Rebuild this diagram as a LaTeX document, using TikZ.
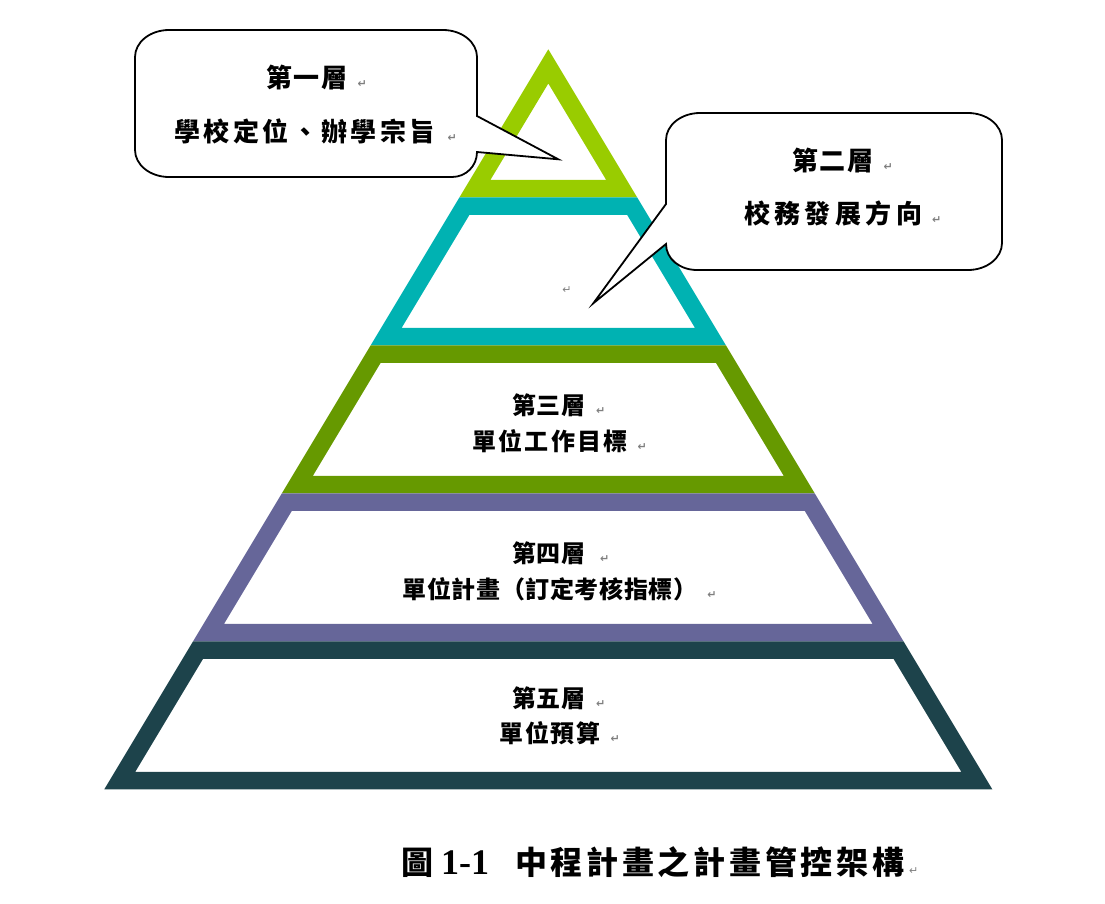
\documentclass[tikz,border=0pt]{standalone}
\usepackage{fontspec}
\setmainfont{Liberation Serif}
\newfontfamily\cjk{Noto Sans CJK TC}
\newfontfamily\sym{DejaVu Sans}
\definecolor{Lone}{HTML}{99CC00}
\definecolor{Ltwo}{HTML}{00B2B2}
\definecolor{Lthree}{HTML}{669900}
\definecolor{Lfour}{HTML}{666699}
\definecolor{Lfive}{HTML}{1D434B}
\definecolor{retgray}{HTML}{7F7F7F}
\makeatletter
\newcommand\spreadtext[2]{\def\spr@gap{#1}\@tfor\spr@c:=#2\do{\spr@c\kern\spr@gap}\unkern}
\makeatother
\newcommand\retm[1][10pt]{\rlap{\kern#1\raisebox{0pt}{\sym\fontsize{11}{11}\selectfont\color{retgray}↵}}}
\begin{document}
\begin{tikzpicture}[x=1pt,y=-1pt,
  lbl/.style={inner sep=0pt, font=\cjk\bfseries\fontsize{24}{24}\selectfont},
  calltext/.style={inner sep=0pt, font=\cjk\bfseries\fontsize{26}{26}\selectfont},
  bubble/.style={draw=black, line width=1.8pt, fill=white, line join=miter},
  band/.style={even odd rule}]
\useasboundingbox (0,0) rectangle (1105,903);

% pyramid layers
\fill[Lone, band] (548.3,49.3) -- (637.1,197.3) -- (459.5,197.3) -- cycle
  (548.3,83.5) -- (606.1,179.8) -- (490.5,179.8) -- cycle;
\fill[Ltwo, band] (459.5,197.3) -- (637.1,197.3) -- (725.9,345.3) -- (370.7,345.3) -- cycle
  (469.5,214.8) -- (627.1,214.8) -- (694.9,327.8) -- (401.7,327.8) -- cycle;
\fill[Lthree, band] (370.7,345.3) -- (725.9,345.3) -- (814.7,493.3) -- (281.9,493.3) -- cycle
  (380.7,362.8) -- (715.9,362.8) -- (783.7,475.8) -- (312.9,475.8) -- cycle;
\fill[Lfour, band] (281.9,493.3) -- (814.7,493.3) -- (903.5,641.3) -- (193.1,641.3) -- cycle
  (291.9,510.8) -- (804.7,510.8) -- (872.5,623.8) -- (224.1,623.8) -- cycle;
\fill[Lfive, band] (193.1,641.3) -- (903.5,641.3) -- (992.3,789.3) -- (104.3,789.3) -- cycle
  (203.1,658.8) -- (893.5,658.8) -- (961.3,771.8) -- (135.3,771.8) -- cycle;

% layer texts
\node[lbl] (l3a) at (549,405) {\spreadtext{1pt}{第三層}\retm};
\node[lbl] (l3b) at (550,441) {\spreadtext{2.2pt}{單位工作目標}\retm};
\node[lbl] (l4a) at (549,553) {\spreadtext{1pt}{第四層}\retm[14pt]};
\node[lbl] (l4b) at (550,589) {\spreadtext{0.6pt}{單位計畫（訂定考核指標）}\retm};
\node[lbl] (l5a) at (549,698) {\spreadtext{1pt}{第五層}\retm[10pt]};
\node[lbl] (l5b) at (550,733) {\spreadtext{1.7pt}{單位預算}\retm};
\node[inner sep=0pt] (l2m) at (567,290) {\sym\fontsize{11}{11}\selectfont\color{retgray}↵};

% callout 1
\draw[bubble] (169,30) -- (443,30) .. controls (461.8,30) and (477,42.1) .. (477,57)
  -- (477,116) -- (558.3,159.3) -- (477,152)
  .. controls (477,166) and (466,177) .. (452,177)
  -- (169,177) .. controls (150.2,177) and (135,164.9) .. (135,150)
  -- (135,57) .. controls (135,42.1) and (150.2,30) .. (169,30) -- cycle;
\node[calltext] (c1a) at (307,77) {\spreadtext{1.5pt}{第一層}\retm};
\node[calltext] (c1b) at (305,131) {\spreadtext{3.4pt}{學校定位、辦學宗旨}\retm[12pt]};

% callout 2
\draw[bubble] (700,113) -- (968,113) .. controls (986.8,113) and (1002,125.1) .. (1002,140)
  -- (1002,243) .. controls (1002,257.9) and (986.8,270) .. (968,270)
  -- (697,270) .. controls (680,270) and (666,259) .. (666,244)
  -- (593.3,303.3) -- (666,204)
  -- (666,140) .. controls (666,125.1) and (681.2,113) .. (700,113) -- cycle;
\node[calltext] (c2a) at (833,160) {\spreadtext{1.5pt}{第二層}\retm};
\node[calltext] (c2b) at (833,214) {\spreadtext{4.4pt}{校務發展方向}\retm};

% caption
\node[anchor=base west, inner sep=0pt] (cap) at (401,874)
  {{\cjk\bfseries\fontsize{32}{32}\selectfont 圖}\hspace{8pt}{\bfseries\fontsize{36}{36}\selectfont 1-1}\hspace{26pt}{\cjk\bfseries\fontsize{32}{32}\selectfont\spreadtext{3.7pt}{中程計畫之計畫管控架構}}\retm[5pt]};
\end{tikzpicture}
\end{document}
